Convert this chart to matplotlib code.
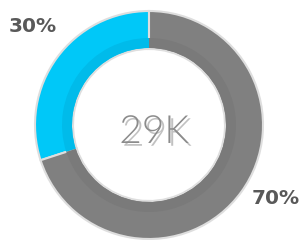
import matplotlib.pyplot as plt
import matplotlib.patheffects as pe

# donut values
shares = [30, 70]
share_labels = ["30%", "70%"]
total_label = "29K"

colors = ["#00c8f8", "#808080"]
inner_colors = ["#00bbea", "#7a7a7a"]

W, H = 304, 240
fig = plt.figure(figsize=(W / 100, H / 100), dpi=100)
ax = fig.add_axes([0, 0, 1, 1])

cx, cy = 149, H - 125
R, ring = 114, 38

# main ring
ax.pie(shares, colors=colors, startangle=90, counterclock=True,
       center=(cx, cy), radius=R, frame=True,
       wedgeprops=dict(width=ring, edgecolor="#dedede", linewidth=1.5))
# darker band on the inner rim
ax.pie(shares, colors=inner_colors, startangle=90, counterclock=True,
       center=(cx, cy), radius=R - ring + 11, frame=True,
       wedgeprops=dict(width=10, edgecolor="none", linewidth=0))
ax.set_xlim(0, W)
ax.set_ylim(0, H)
ax.set_aspect("equal")
ax.axis("off")

# percentage labels
label_pos = [(33, H - 26), (276, H - 199)]
for (x, y), txt in zip(label_pos, share_labels):
    ax.text(x, y, txt, ha="center", va="center", fontsize=14.5,
            fontweight="bold", color="#595959", family="DejaVu Sans")

# big centre number with a soft shadow
ax.text(154, H - 132, total_label, ha="center", va="center", fontsize=28,
        color="#8c8c8c", family=["Lato", "DejaVu Sans"], fontweight=300,
        path_effects=[pe.SimplePatchShadow(offset=(2, -2), shadow_rgbFace="#333333", alpha=0.3),
                      pe.Normal()])

fig.savefig("out.png", dpi=100)
